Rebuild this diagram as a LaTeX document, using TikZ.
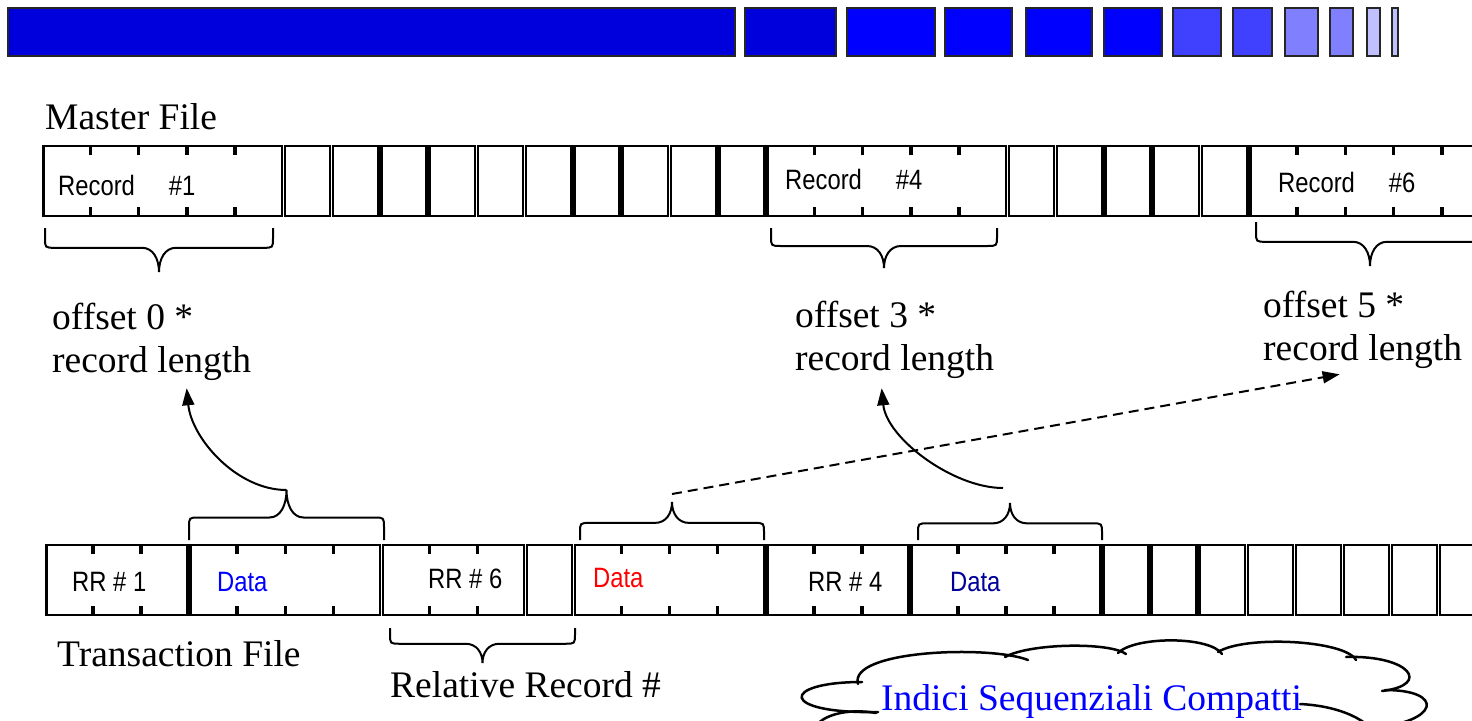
\documentclass[tikz,border=0pt]{standalone}
\usepackage{fontspec}
\setmainfont{Liberation Serif}
\newfontfamily\cellfont[FakeStretch=0.85]{Liberation Sans}
\usetikzlibrary{arrows.meta}

\definecolor{barA}{RGB}{0,0,221}
\definecolor{barB}{RGB}{0,0,255}
\definecolor{barC}{RGB}{64,64,255}
\definecolor{barD}{RGB}{128,128,255}
\definecolor{barE}{RGB}{192,192,255}
\definecolor{datablue}{RGB}{0,0,255}
\definecolor{datared}{RGB}{255,0,0}
\definecolor{datanavy}{RGB}{0,0,153}

\tikzset{
  barbox/.style = {draw=black!85, line width=2.5pt},
  cellbox/.style = {draw, line width=2.5pt, fill=white},
  tickmark/.style = {line width=3.5pt},
  bracepath/.style = {line width=2pt},
  lbl/.style = {inner sep=0pt, anchor=base west, font=\fontsize{37.5}{44}\selectfont},
  celltext/.style = {inner sep=0pt, anchor=base west, font=\cellfont\fontsize{28}{30}\selectfont},
  arrowline/.style = {line width=2pt, -{Triangle[length=17pt,width=12pt]}},
  cloudline/.style = {line width=2.5pt, line cap=round}
}

% curly brace: x from, x to, y of the ends, y of the tip, name of the tip
\newcommand{\curly}[5]{%
  \pgfmathsetmacro{\brM}{(#1+#2)/2}
  \pgfmathsetmacro{\brY}{#3+0.45*(#4-#3)}
  \pgfmathsetmacro{\brS}{sign(#4-#3)}
  \pgfmathsetmacro{\brC}{\brY-10*\brS}
  \pgfmathsetmacro{\brV}{\brY+0.45*(#4-\brY)}
  \draw[bracepath] (#1,#3) -- (#1,\brC) .. controls (#1,\brY) .. (#1+10,\brY)
    -- (\brM-17,\brY) .. controls (\brM-6,\brY) and (\brM,\brV) .. (\brM,#4)
    .. controls (\brM,\brV) and (\brM+6,\brY) .. (\brM+17,\brY)
    -- (#2-10,\brY) .. controls (#2,\brY) .. (#2,\brC) -- (#2,#3);
  \coordinate (#5) at (\brM,#4);
}

\begin{document}
\begin{tikzpicture}[x=1pt, y=-1pt]
  \useasboundingbox (0,0) rectangle (1472,720);
  \clip (0,0) rectangle (1472,720);

  % title bar
  \foreach \bl/\br/\bc in {8/735/barA, 745/836/barA, 847/935/barB, 945/1012/barB,
      1026/1092/barB, 1104/1162/barB, 1173/1221/barC, 1233/1272/barC,
      1285/1318/barD, 1330/1353/barD, 1367/1380/barE, 1392/1398/barE}
    \draw[barbox, fill=\bc] (\bl,8) rectangle (\br,56);

  % master file
  \node[lbl] (master) at (45,129) {Master File};
  \foreach \i in {5,6,7,8,9,10,11,12,13,14,20,21,22,23,24}
    \draw[cellbox] ({42+\i*48.27+1.5},146) rectangle ({42+(\i+1)*48.27-1.5},216);
  \foreach \a/\n in {0/5,15/5,25/5} {
    \draw[cellbox] ({42+\a*48.27+1.5},146) rectangle ({42+(\a+\n)*48.27-1.5},216);
    \pgfmathtruncatemacro{\m}{\n-1}
    \foreach \k in {1,...,\m}
      \draw[tickmark] ({42+(\a+\k)*48.27},146) -- ++(0,9)
                      ({42+(\a+\k)*48.27},216) -- ++(0,-9);
  }
  \node[celltext] (rec1) at (58,195) {Record\hspace{34pt}\#1};
  \node[celltext] (rec4) at (785,189) {Record\hspace{34pt}\#4};
  \node[celltext] (rec6) at (1278,192) {Record\hspace{34pt}\#6};

  \curly{45}{273}{228}{272}{mA}
  \curly{771}{997}{228}{268}{mB}
  \curly{1256}{1484}{222}{266}{mC}

  \node[lbl] (off0) at (52,329) {offset 0 *};
  \node[lbl] (len0) at (52,372) {record length};
  \node[lbl] (off3) at (795,327) {offset 3 *};
  \node[lbl] (len3) at (795,370) {record length};
  \node[lbl] (off5) at (1263,317) {offset 5 *};
  \node[lbl] (len5) at (1263,360) {record length};

  % transaction file
  \foreach \i in {10,22,23,24,25,26,27,28,29}
    \draw[cellbox] ({45+\i*48.05+1.5},545) rectangle ({45+(\i+1)*48.05-1.5},615);
  \foreach \a/\n in {0/3,3/4,7/3,11/4,15/3,18/4} {
    \draw[cellbox] ({45+\a*48.05+1.5},545) rectangle ({45+(\a+\n)*48.05-1.5},615);
    \pgfmathtruncatemacro{\m}{\n-1}
    \foreach \k in {1,...,\m}
      \draw[tickmark] ({45+(\a+\k)*48.05},545) -- ++(0,9)
                      ({45+(\a+\k)*48.05},615) -- ++(0,-9);
  }
  \node[celltext] (rr1) at (72,591) {RR \# 1};
  \node[celltext, text=datablue] (dat1) at (217,591) {Data};
  \node[celltext] (rr6) at (428,588) {RR \# 6};
  \node[celltext, text=datared] (dat2) at (593,587) {Data};
  \node[celltext] (rr4) at (808,591) {RR \# 4};
  \node[celltext, text=datanavy] (dat3) at (950,591) {Data};

  \curly{189}{384}{540}{490}{tA}
  \curly{580}{764}{540}{502}{tB}
  \curly{918}{1102}{540}{503}{tC}
  \curly{390}{575}{628}{663}{rA}

  \node[lbl] (trans) at (57,666) {Transaction File};
  \node[lbl] (relrec) at (390,697) {Relative Record \#};

  % arrows
  \draw[arrowline] (tA) .. controls +(-50,0) and +(5,50) .. ([xshift=35pt,yshift=-8pt]len0.south);
  \draw[arrowline] ([xshift=-7pt,yshift=15pt]tC) .. controls +(-50,0) and +(5,50) .. ([xshift=-13pt,yshift=-10pt]len3.south);
  \draw[arrowline, dash pattern=on 10pt off 6pt] ([yshift=8pt]tB) -- ([xshift=-23pt,yshift=-6pt]len5.south);

  % cloud
  \node[lbl, text=datablue] (idx) at (881,710) {Indici Sequenziali Compatti};
  \draw[cloudline] (878,712) .. controls (778,714) and (780,682) .. (862,682);
  \draw[cloudline] (812,735) .. controls (815,714) and (850,708) .. (876,713);
  \draw[cloudline] (858,684) .. controls (848,650) and (990,645) .. (1028,660);
  \draw[cloudline] (1005,657) .. controls (1030,643) and (1110,642) .. (1126,654);
  \draw[cloudline] (1118,653) .. controls (1135,636) and (1210,636) .. (1222,654);
  \draw[cloudline] (1218,652) .. controls (1245,635) and (1345,640) .. (1356,660);
  \draw[cloudline] (1346,657) .. controls (1410,655) and (1432,685) .. (1382,691);
  \draw[cloudline] (1385,690) .. controls (1445,690) and (1440,722) .. (1372,728);
  \draw[cloudline] (1300,704) .. controls (1340,706) and (1370,720) .. (1380,740);
\end{tikzpicture}
\end{document}
